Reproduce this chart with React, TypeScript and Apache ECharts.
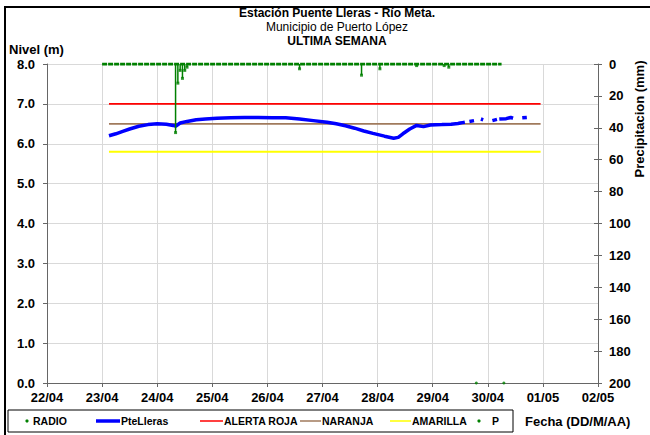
import React, { useEffect, useRef } from 'react';
import * as echarts from 'echarts';

const YEAR = 2012;
const X_MIN = '22/04 00:00';
const X_MAX = '02/05 00:00';

// Nivel (m) - PteLleras
const LEVEL_TIMES = [
  '23/04 03:00', '23/04 06:00', '23/04 09:00', '23/04 12:00', '23/04 16:00', '23/04 20:00',
  '24/04 00:00', '24/04 04:00', '24/04 07:00', '24/04 08:00', '24/04 10:00', '24/04 13:00',
  '24/04 17:00', '24/04 21:00', '25/04 02:00', '25/04 08:00', '25/04 14:00', '25/04 20:00',
  '26/04 02:00', '26/04 08:00', '26/04 14:00', '26/04 20:00', '27/04 02:00', '27/04 06:00',
  '27/04 10:00', '27/04 14:00', '27/04 18:00', '27/04 22:00', '28/04 03:00', '28/04 07:00',
  '28/04 09:00', '28/04 11:00', '28/04 14:00', '28/04 17:00', '28/04 20:00', '28/04 23:00',
  '29/04 04:00', '29/04 08:00', '29/04 11:00', '29/04 12:00',
  '29/04 13:00', '29/04 14:00', '29/04 15:00',
  '29/04 16:00', '29/04 18:00', '29/04 19:00',
  '29/04 21:00', '29/04 22:00', '30/04 00:00',
  '30/04 02:00', '30/04 04:00', '30/04 04:30',
  '30/04 05:00', '30/04 08:00', '30/04 10:00', '30/04 11:00', '30/04 12:00',
  '30/04 15:00', '30/04 17:00',
];
const LEVEL_VALUES: (number | null)[] = [
  6.20, 6.25, 6.31, 6.37, 6.44, 6.48,
  6.50, 6.49, 6.46, 6.44, 6.52, 6.56,
  6.60, 6.62, 6.64, 6.65, 6.66, 6.66,
  6.65, 6.65, 6.62, 6.58, 6.54, 6.50,
  6.45, 6.39, 6.32, 6.26, 6.19, 6.14,
  6.16, 6.25, 6.37, 6.46, 6.43, 6.47,
  6.48, 6.49, 6.51, 6.52,
  6.53, 6.54, null,
  6.56, 6.58, null,
  6.62, 6.60, null,
  6.58, 6.61, null,
  6.62, 6.63, 6.66, 6.64, null,
  6.65, 6.66,
];

// Umbrales
const THRESHOLD_SPAN = ['23/04 03:00', '30/04 23:00'];
const ALERTA_ROJA = 7.0;
const NARANJA = 6.5;
const AMARILLA = 5.8;

// Precipitación (mm)
const P_SPAN = ['23/04 00:00', '30/04 06:00'];
const P_TIMES = [
  '24/04 08:00', '24/04 09:00', '24/04 10:00', '24/04 11:00', '24/04 12:00', '24/04 13:00',
  '26/04 14:00', '27/04 17:00', '28/04 01:00', '28/04 17:00', '29/04 05:00', '29/04 07:00',
];
const P_VALUES = [43, 12, 4, 9, 4, 2, 3, 7, 3, 1, 1, 2];

// RADIO
const RADIO_TIMES = ['29/04 19:00', '30/04 07:00'];
const RADIO_VALUES = [0, 0];

const LEVEL_MAX = 8;
const PRECIP_MAX = 200;

const FONT = '"Liberation Sans", Arial, sans-serif';

function t(s: string): number {
  const [d, hm] = s.split(' ');
  const [dd, mm] = d.split('/').map(Number);
  const [hh, mi] = hm.split(':').map(Number);
  return Date.UTC(YEAR, mm - 1, dd, hh, mi);
}
const pad = (n: number) => (n < 10 ? '0' + n : '' + n);

export default function App() {
  const ref = useRef<HTMLDivElement>(null);

  useEffect(() => {
    if (!ref.current) return;
    const chart = echarts.init(ref.current, undefined, { renderer: 'svg' });

    const green = '#008000';
    const blue = '#0000FF';
    const red = '#FF0000';
    const brown = '#A07A5C';
    const yellow = '#FFFF00';
    const axisColor = '#666666';
    const gridColor = '#D9D9D9';

    const lbl = { fontFamily: FONT, fontWeight: 'bold' as const, fontSize: 13, color: '#000' };

    const level = LEVEL_TIMES.map((s, i) => [t(s), LEVEL_VALUES[i]]);
    const thr = (v: number) => THRESHOLD_SPAN.map((s) => [t(s), v]);
    const pBase = P_SPAN.map((s) => [t(s), 0]);
    const pData = P_TIMES.map((s, i) => [t(s), P_VALUES[i]]);
    const radio = RADIO_TIMES.map((s, i) => [t(s), RADIO_VALUES[i]]);

    const ly = 421;
    const lf = `bold 10.5px ${FONT}`;
    const legendItems: any[] = [
      { type: 'rect', shape: { x: 8, y: 410, width: 505, height: 22 }, style: { fill: '#fff', stroke: '#000', lineWidth: 1 } },
      { type: 'circle', shape: { cx: 27, cy: ly, r: 1.6 }, style: { fill: green } },
      { type: 'text', x: 33, y: ly, style: { text: 'RADIO', font: lf, fill: '#000', verticalAlign: 'middle' } },
      { type: 'line', shape: { x1: 96, y1: ly, x2: 120, y2: ly }, style: { stroke: blue, lineWidth: 3.5 } },
      { type: 'text', x: 121, y: ly, style: { text: 'PteLleras', font: lf, fill: '#000', verticalAlign: 'middle' } },
      { type: 'line', shape: { x1: 200, y1: ly, x2: 223, y2: ly }, style: { stroke: red, lineWidth: 1.5 } },
      { type: 'text', x: 224, y: ly, style: { text: 'ALERTA ROJA', font: lf, fill: '#000', verticalAlign: 'middle' } },
      { type: 'line', shape: { x1: 300, y1: ly, x2: 321, y2: ly }, style: { stroke: brown, lineWidth: 1.5 } },
      { type: 'text', x: 322, y: ly, style: { text: 'NARANJA', font: lf, fill: '#000', verticalAlign: 'middle' } },
      { type: 'line', shape: { x1: 390, y1: ly, x2: 411, y2: ly }, style: { stroke: yellow, lineWidth: 1.5 } },
      { type: 'text', x: 412, y: ly, style: { text: 'AMARILLA', font: lf, fill: '#000', verticalAlign: 'middle' } },
      { type: 'circle', shape: { cx: 479, cy: ly, r: 1.6 }, style: { fill: green } },
      { type: 'text', x: 492, y: ly, style: { text: 'P', font: lf, fill: '#000', verticalAlign: 'middle' } },
    ];

    chart.setOption({
      animation: false,
      backgroundColor: '#fff',
      grid: { left: 47, right: 52, top: 64, bottom: 52 },
      xAxis: {
        type: 'value',
        min: t(X_MIN),
        max: t(X_MAX),
        interval: 86400000,
        axisLine: { show: true, lineStyle: { color: axisColor, width: 1 } },
        axisTick: { show: true, length: 4, lineStyle: { color: axisColor } },
        splitLine: { show: true, lineStyle: { color: gridColor, width: 1 } },
        axisLabel: {
          ...lbl,
          margin: 8,
          formatter: (v: number) => {
            const d = new Date(v);
            return pad(d.getUTCDate()) + '/' + pad(d.getUTCMonth() + 1);
          },
        },
      },
      yAxis: [
        {
          type: 'value',
          min: 0,
          max: LEVEL_MAX,
          interval: 1,
          position: 'left',
          axisLine: { show: true, lineStyle: { color: axisColor, width: 1 } },
          axisTick: { show: true, length: 4, lineStyle: { color: axisColor } },
          splitLine: { show: true, lineStyle: { color: gridColor, width: 1 } },
          axisLabel: { ...lbl, margin: 12, formatter: (v: number) => v.toFixed(1) },
        },
        {
          type: 'value',
          min: 0,
          max: PRECIP_MAX,
          interval: 20,
          inverse: true,
          position: 'right',
          axisLine: { show: true, lineStyle: { color: axisColor, width: 1 } },
          axisTick: { show: true, length: 4, lineStyle: { color: axisColor } },
          splitLine: { show: false },
          axisLabel: { ...lbl, margin: 11 },
        },
        {
          type: 'value',
          min: 0,
          max: PRECIP_MAX,
          interval: 20,
          inverse: true,
          position: 'right',
          axisLine: { show: false },
          axisTick: { show: true, inside: true, length: 4, lineStyle: { color: axisColor } },
          splitLine: { show: false },
          axisLabel: { show: false },
        },
      ],
      graphic: [
        { type: 'rect', shape: { x: 5, y: 7, width: 700, height: 500 }, style: { fill: 'none', stroke: '#000', lineWidth: 2 }, z: 100 },
        { type: 'text', x: 337, y: 12.5, style: { text: 'Estación Puente Lleras - Río Meta.', font: `bold 12px ${FONT}`, lineHeight: 12, fill: '#000', align: 'center', verticalAlign: 'middle' } },
        { type: 'text', x: 337, y: 26.5, style: { text: 'Municipio de Puerto López', font: `12px ${FONT}`, lineHeight: 12, fill: '#000', align: 'center', verticalAlign: 'middle' } },
        { type: 'text', x: 337, y: 40.5, style: { text: 'ULTIMA SEMANA', font: `bold 12px ${FONT}`, lineHeight: 12, fill: '#000', align: 'center', verticalAlign: 'middle' } },
        { type: 'text', x: 9, y: 49, style: { text: 'Nivel (m)', font: `bold 13px ${FONT}`, fill: '#000', verticalAlign: 'middle' } },
        { type: 'text', x: 639, y: 119, rotation: Math.PI / 2, style: { text: 'Precipitacion (mm)', font: `bold 13px ${FONT}`, fill: '#000', align: 'center', verticalAlign: 'middle' } },
        { type: 'text', x: 525, y: 421, style: { text: 'Fecha (DD/M/AA)', font: `bold 13px ${FONT}`, fill: '#000', verticalAlign: 'middle' } },
        ...legendItems,
      ],
      series: [
        { name: 'AMARILLA', type: 'line', yAxisIndex: 0, data: thr(AMARILLA), showSymbol: false, lineStyle: { color: yellow, width: 1.8 }, z: 2 },
        { name: 'NARANJA', type: 'line', yAxisIndex: 0, data: thr(NARANJA), showSymbol: false, lineStyle: { color: brown, width: 1.8 }, z: 2 },
        { name: 'ALERTA ROJA', type: 'line', yAxisIndex: 0, data: thr(ALERTA_ROJA), showSymbol: false, lineStyle: { color: red, width: 1.8 }, z: 2 },
        { name: 'PteLleras', type: 'line', yAxisIndex: 0, data: level, showSymbol: false, connectNulls: false, lineStyle: { color: blue, width: 3.5 }, z: 3 },
        { name: 'RADIO', type: 'scatter', yAxisIndex: 0, data: radio, symbol: 'circle', symbolSize: 3, itemStyle: { color: green }, z: 4 },
        { name: 'P', type: 'line', yAxisIndex: 1, data: pBase, showSymbol: false, lineStyle: { color: green, width: 3, type: [5, 1] }, z: 4 },
        { name: 'P', type: 'bar', yAxisIndex: 1, data: pData, barWidth: 1.5, itemStyle: { color: green }, z: 4 },
        { name: 'P', type: 'scatter', yAxisIndex: 1, data: pData, symbol: 'rect', symbolSize: 3, itemStyle: { color: green }, z: 4 },
      ],
    });

    return () => chart.dispose();
  }, []);

  return <div ref={ref} style={{ width: 650, height: 435, position: 'absolute', left: 0, top: 0 }} />;
}
